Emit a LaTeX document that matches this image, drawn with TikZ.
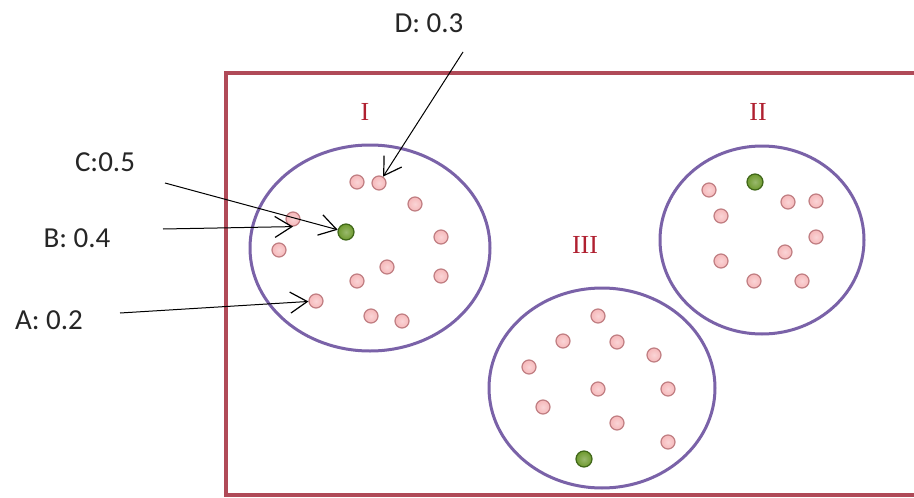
\documentclass[tikz,border=0pt]{standalone}
\usepackage{fontspec}
\setmainfont{Liberation Serif}
\newfontfamily\lblfont{Carlito}
\usetikzlibrary{arrows.meta}
\definecolor{boxred}{HTML}{B04A58}
\definecolor{ringpurple}{HTML}{7A62A8}
\definecolor{romanred}{HTML}{B02030}
\definecolor{dotpink}{HTML}{F6B8BA}
\definecolor{dotrim}{HTML}{C07E82}
\definecolor{dotgreen}{HTML}{6E9A2E}
\definecolor{greenrim}{HTML}{3F6618}
\tikzset{
  ring/.style={draw=ringpurple, line width=3pt},
  pdot/.style={circle, minimum size=14pt, inner sep=0pt, inner color=dotpink!60!white, outer color=dotpink, draw=dotrim, line width=1.2pt},
  gdot/.style={circle, minimum size=16pt, inner sep=0pt, inner color=dotgreen!70!white, outer color=dotgreen, draw=greenrim, line width=1.2pt},
  roman/.style={text=romanred, font=\fontsize{26}{28}\selectfont, inner sep=0pt},
  lbl/.style={font=\lblfont\fontsize{29}{31}\selectfont, inner sep=0pt, text=black!85},
  arr/.style={draw=black, line width=1pt, -{Straight Barb[length=17pt,width=21pt,line width=1.2pt]}}
}
\begin{document}
\begin{tikzpicture}[x=1pt,y=-1pt]
\useasboundingbox (0,0) rectangle (914,498);
\fill[white] (0,0) rectangle (914,498);
% frame
\draw[boxred, line width=4pt] (930,73) -- (225.5,73) -- (225.5,495) -- (930,495);
% clusters
\draw[ring] (370,248) ellipse [x radius=120, y radius=103];
\draw[ring] (762,240) ellipse [x radius=102, y radius=94];
\draw[ring] (602,388) ellipse [x radius=113, y radius=100];
\node[roman] (rI) at (365,112) {I};
\node[roman] (rII) at (758,112) {II};
\node[roman] (rIII) at (585,245) {III};
% cluster I
\node[pdot] (i1) at (357,182) {};
\node[pdot] (i2) at (379,183) {};
\node[pdot] (i3) at (415,204) {};
\node[pdot] (i4) at (293,219) {};
\node[pdot] (i5) at (279,250) {};
\node[gdot] (ig) at (346,232) {};
\node[pdot] (i6) at (441,237) {};
\node[pdot] (i7) at (387,267) {};
\node[pdot] (i8) at (357,281) {};
\node[pdot] (i9) at (441,276) {};
\node[pdot] (i10) at (316,301) {};
\node[pdot] (i11) at (371,316) {};
\node[pdot] (i12) at (402,321) {};
% cluster II
\node[gdot] (iig) at (755,182) {};
\node[pdot] (ii1) at (709,190) {};
\node[pdot] (ii2) at (788,202) {};
\node[pdot] (ii3) at (816,201) {};
\node[pdot] (ii4) at (721,216) {};
\node[pdot] (ii5) at (816,237) {};
\node[pdot] (ii6) at (785,252) {};
\node[pdot] (ii7) at (721,261) {};
\node[pdot] (ii8) at (754,281) {};
\node[pdot] (ii9) at (802,281) {};
% cluster III
\node[pdot] (iii1) at (598,316) {};
\node[pdot] (iii2) at (563,341) {};
\node[pdot] (iii3) at (617,342) {};
\node[pdot] (iii4) at (654,355) {};
\node[pdot] (iii5) at (529,367) {};
\node[pdot] (iii6) at (598,389) {};
\node[pdot] (iii7) at (668,389) {};
\node[pdot] (iii8) at (543,407) {};
\node[pdot] (iii9) at (617,423) {};
\node[pdot] (iii10) at (668,442) {};
\node[gdot] (iiig) at (584,459) {};
% labels
\node[lbl] (lD) at (429,23) {D: 0.3};
\node[lbl] (lC) at (105,162) {C:0.5};
\node[lbl] (lB) at (77,238) {B: 0.4};
\node[lbl] (lA) at (49,320) {A: 0.2};
\coordinate (sD) at (463,52);
\coordinate (sC) at (165,183);
\coordinate (sB) at (163,229);
\coordinate (sA) at (120,313);
\draw[arr] (sD) -- (i2);
\draw[arr] (sC) -- (ig);
\draw[arr] (sB) -- (i4.south);
\draw[arr] (sA) -- (i10);
\end{tikzpicture}
\end{document}
